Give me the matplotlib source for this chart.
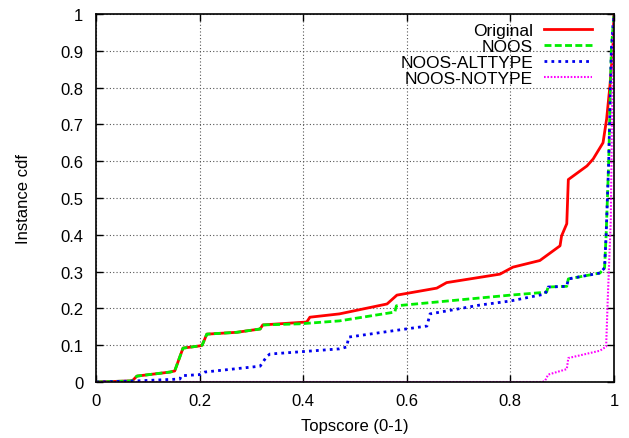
import matplotlib.pyplot as plt

plt.rcParams['font.family'] = ['Liberation Sans', 'DejaVu Sans']

# CDF curves (x = topscore, y = instance cdf)
orig_x = [0.0, 0.07, 0.079, 0.143, 0.152, 0.168, 0.2, 0.205, 0.214, 0.272, 0.317, 0.322,
          0.407, 0.413, 0.47, 0.562, 0.581, 0.658, 0.677, 0.78, 0.805, 0.857, 0.896, 0.899,
          0.909, 0.912, 0.948, 0.96, 0.979, 0.986, 0.992, 0.998, 1.0]
orig_y = [0.0, 0.003, 0.016, 0.027, 0.03, 0.092, 0.098, 0.1, 0.13, 0.135, 0.144, 0.155,
          0.163, 0.176, 0.185, 0.212, 0.236, 0.255, 0.27, 0.293, 0.312, 0.33, 0.37, 0.397,
          0.43, 0.55, 0.587, 0.606, 0.65, 0.715, 0.80, 0.905, 1.0]

noos_x = [0.0, 0.07, 0.079, 0.143, 0.152, 0.168, 0.2, 0.205, 0.214, 0.272, 0.317, 0.322,
          0.394, 0.47, 0.577, 0.58, 0.8, 0.87, 0.873, 0.909, 0.912, 0.973, 0.982, 0.985,
          0.99, 0.995, 1.0]
noos_y = [0.0, 0.003, 0.016, 0.027, 0.03, 0.092, 0.098, 0.1, 0.13, 0.135, 0.144, 0.155,
          0.158, 0.166, 0.19, 0.207, 0.236, 0.244, 0.258, 0.26, 0.28, 0.296, 0.31, 0.4,
          0.6, 0.9, 1.0]

alt_x = [0.0, 0.079, 0.162, 0.165, 0.2, 0.21, 0.317, 0.33, 0.336, 0.394, 0.47, 0.484,
         0.488, 0.573, 0.639, 0.645, 0.741, 0.8, 0.867, 0.873, 0.909, 0.912, 0.973,
         0.982, 0.985, 0.99, 0.995, 1.0]
alt_y = [0.0, 0.003, 0.008, 0.017, 0.02, 0.027, 0.043, 0.07, 0.076, 0.082, 0.09, 0.095,
         0.122, 0.139, 0.152, 0.185, 0.209, 0.22, 0.239, 0.258, 0.26, 0.28, 0.296,
         0.31, 0.4, 0.6, 0.9, 1.0]

notype_x = [0.0, 0.862, 0.867, 0.873, 0.909, 0.912, 0.973, 0.985, 0.988, 0.994, 0.997, 1.0]
notype_y = [0.0, 0.0, 0.003, 0.02, 0.035, 0.065, 0.085, 0.096, 0.22, 0.44, 0.8, 1.0]

fig = plt.figure(figsize=(6.29, 4.39), dpi=100)
ax = fig.add_axes([0.1526, 0.1276, 0.8234, 0.8384])

ax.plot(orig_x, orig_y, color='#ff0000', lw=2.0, label='Original')
ax.plot(noos_x, noos_y, color='#00ee00', lw=2.0, ls=(0, (2.5, 1.2)), label='NOOS')
ax.plot(alt_x, alt_y, color='#0000ee', lw=2.0, ls=(0, (1, 1.5)), label='NOOS-ALTTYPE')
ax.plot(notype_x, notype_y, color='#ff00ff', lw=1.5, ls=(0, (0.8, 0.8)), label='NOOS-NOTYPE')

ax.set_xlim(0, 1)
ax.set_ylim(0, 1)
ax.set_xticks([0, 0.2, 0.4, 0.6, 0.8, 1])
ax.set_xticklabels(['0', '0.2', '0.4', '0.6', '0.8', '1'])
ax.set_yticks([i / 10 for i in range(11)])
ax.set_yticklabels(['0'] + ['0.%d' % i for i in range(1, 10)] + ['1'])
ax.tick_params(direction='in', top=True, right=True, labelsize=12, length=5, width=1)
ax.tick_params(axis='x', pad=8)
ax.tick_params(axis='y', pad=9)
ax.grid(True, color='#555555', ls=(0, (1, 2)), lw=0.8)
for s in ax.spines.values():
    s.set_linewidth(1.2)

ax.set_xlabel('Topscore (0-1)', fontsize=12)
ax.set_ylabel('Instance cdf', fontsize=12)
ax.xaxis.set_label_coords(0.5, -0.097)
ax.yaxis.set_label_coords(-0.125, 0.5)

leg = ax.legend(loc='upper right', bbox_to_anchor=(0.978, 1.005), frameon=False,
                markerfirst=False, fontsize=12.5, handlelength=2.75, labelspacing=0.05,
                handletextpad=0.65, borderaxespad=0.2)
for t in leg.get_texts():
    t.set_ha('right')
leg._legend_box.align = 'right'

plt.savefig('out.png', dpi=100)
